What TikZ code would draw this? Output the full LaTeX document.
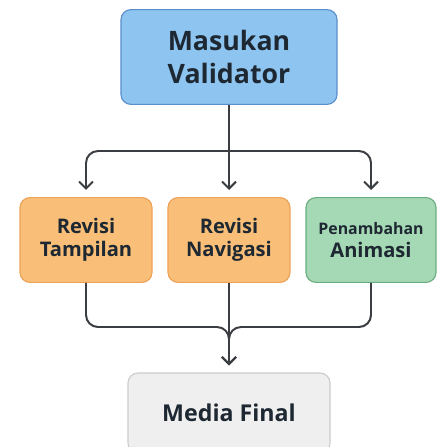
\documentclass[tikz,border=0pt]{standalone}
\usepackage{fontspec}
\setmainfont{Open Sans}
\usetikzlibrary{arrows.meta}
\definecolor{bluefill}{HTML}{8EC4F0}
\definecolor{blueline}{HTML}{5A8FCC}
\definecolor{orangefill}{HTML}{F9BF78}
\definecolor{orangeline}{HTML}{EDA25A}
\definecolor{greenfill}{HTML}{A5D8B4}
\definecolor{greenline}{HTML}{6AAE82}
\definecolor{grayfill}{HTML}{EFEFEF}
\definecolor{grayline}{HTML}{CCCCCC}
\definecolor{textdark}{HTML}{1E2832}
\definecolor{linedark}{HTML}{3A3E42}
\begin{document}
\begin{tikzpicture}[x=0.025cm, y=-0.025cm,
    box/.style={draw, line width=0.8pt, rounded corners=0.25cm, align=center, text=textdark, font=\bfseries},
    conn/.style={draw=linedark, line width=1.4pt, rounded corners=0.3cm},
    arr/.style={conn, -{Straight Barb[length=5pt, width=10pt, line width=1.4pt]}, shorten >=5pt}]
    \useasboundingbox (0,0) rectangle (440,447);

    \node[box, fill=bluefill, draw=blueline, minimum width=5.4cm, minimum height=2.37cm, font=\fontsize{19}{23.5}\selectfont\bfseries] (val) at (229,57) {Masukan\\Validator};

    \node[box, fill=orangefill, draw=orangeline, minimum width=3.3cm, minimum height=2.12cm, font=\fontsize{14.3}{16.4}\selectfont\bfseries] (tampilan) at (86,240) {Revisi\\Tampilan};
    \node[box, fill=orangefill, draw=orangeline, minimum width=3.05cm, minimum height=2.12cm, font=\fontsize{14.3}{16.4}\selectfont\bfseries] (navigasi) at (229,240) {Revisi\\Navigasi};
    \node[box, fill=greenfill, draw=greenline, minimum width=3.25cm, minimum height=2.12cm, font=\fontsize{14.3}{16.4}\selectfont\bfseries] (animasi) at (371,240) {{\fontsize{11.3}{14}\selectfont Penambahan}\\Animasi};

    \node[box, fill=grayfill, draw=grayline, minimum width=5.05cm, minimum height=2.0cm, font=\fontsize{16.5}{20}\selectfont\bfseries] (final) at (229,413) {Media Final};

    \coordinate (split) at (229,151);
    \coordinate (merge) at (229,327);

    \draw[conn] (val.south) -- (split);
    \draw[arr] (split) -| (tampilan.north);
    \draw[arr] (split) -- (navigasi.north);
    \draw[arr] (split) -| (animasi.north);

    \draw[arr] (tampilan.south) |- (merge) -- (final.north);
    \draw[arr] (animasi.south) |- (merge) -- (final.north);
    \draw[arr] (navigasi.south) -- (final.north);
\end{tikzpicture}
\end{document}
